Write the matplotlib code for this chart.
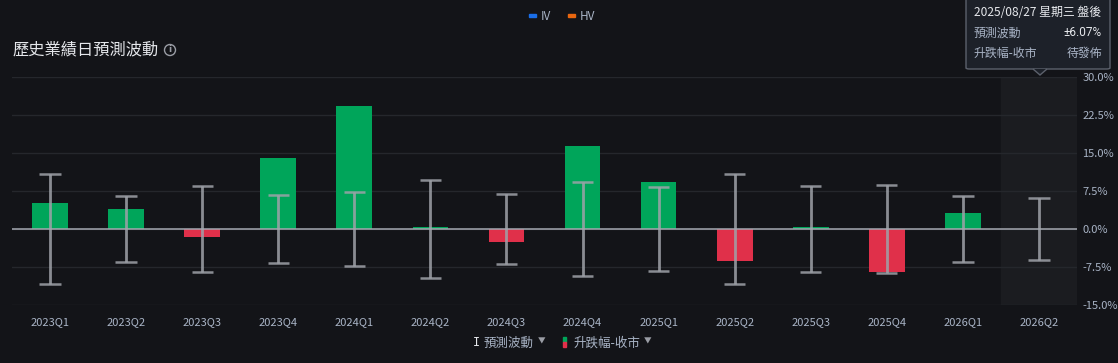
import matplotlib
matplotlib.use("Agg")
import matplotlib.pyplot as plt
from matplotlib.patches import FancyBboxPatch, Ellipse, Rectangle, Polygon
import numpy as np

plt.rcParams["font.family"] = ["Noto Sans CJK TC", "DejaVu Sans"]

BG = "#131418"
GRID = "#25272c"
TEXT = "#a9b4c6"
GREEN = "#00a55a"
RED = "#e0304a"
WHISKER = "#9fa2a9"

quarters = ["2023Q1", "2023Q2", "2023Q3", "2023Q4", "2024Q1", "2024Q2", "2024Q3",
            "2024Q4", "2025Q1", "2025Q2", "2025Q3", "2025Q4", "2026Q1", "2026Q2"]
# actual close-to-close move (%), None = not yet released
move = [5.1, 4.0, -1.5, 14.0, 24.3, 0.45, -2.5,
        16.4, 9.3, -6.4, 0.45, -8.4, 3.2, None]
# predicted move (+/- %)
implied = [10.9, 6.5, 8.45, 6.65, 7.35, 9.7, 6.9,
           9.3, 8.3, 10.9, 8.5, 8.65, 6.5, 6.07]
yticks = [30.0, 22.5, 15.0, 7.5, 0.0, -7.5, -15.0]

fig = plt.figure(figsize=(11.18, 3.63), dpi=100)
fig.patch.set_facecolor(BG)
W, H = 1118, 363
ax = fig.add_axes([12 / W, 1 - 305 / H, (1077 - 12) / W, (305 - 77) / H])
ax.set_facecolor(BG)

x = np.arange(len(quarters))
ax.set_xlim(-0.5, len(quarters) - 0.5)
ax.set_ylim(-15, 30)

# highlight of the upcoming quarter
ax.axvspan(len(quarters) - 1.5, len(quarters) - 0.5, color="#1b1c20", zorder=0)

for t in yticks:
    ax.axhline(t, color=GRID, lw=1, zorder=1)
ax.axhline(0, color="#a4a8b0", lw=1.1, zorder=4)

for xi, m in zip(x, move):
    if m is None:
        continue
    ax.bar(xi, m, width=0.47, color=GREEN if m >= 0 else RED, zorder=2)

for xi, iv in zip(x, implied):
    ax.plot([xi, xi], [-iv, iv], color=WHISKER, lw=2, alpha=0.85, zorder=3,
            solid_capstyle="butt")
    for yv in (-iv, iv):
        ax.plot([xi - 0.14, xi + 0.14], [yv, yv], color=WHISKER, lw=1.8,
                alpha=0.85, zorder=3, solid_capstyle="butt")

ax.set_xticks(x)
ax.set_xticklabels(quarters)
ax.yaxis.tick_right()
ax.set_yticks(yticks)
ax.set_yticklabels([f"{t:.1f}%" for t in yticks])
ax.tick_params(axis="both", length=0, colors=TEXT, labelsize=8)
ax.tick_params(axis="x", pad=9)
ax.tick_params(axis="y", pad=4)
for s in ax.spines.values():
    s.set_visible(False)

# title
fig.text(12 / W, 1 - 50 / H, "歷史業績日預測波動", color="#e6e8ec", fontsize=11.7,
         va="center", ha="left")
fig.patches.append(Ellipse((170 / W, 1 - 50 / H), 11 / W, 11 / H,
                           transform=fig.transFigure, fill=False, ec="#9a9da5", lw=1))
fig.text(170 / W, 1 - 50 / H, "i", color="#9a9da5", fontsize=6.5,
         ha="center", va="center", family="DejaVu Sans", fontweight="bold")

# top legend
fig.patches.append(Rectangle((529 / W, 1 - 17 / H), 7 / W, 3 / H,
                             transform=fig.transFigure, color="#1a6ee8"))
fig.text(541 / W, 1 - 16 / H, "IV", color=TEXT, fontsize=8.5, va="center")
fig.patches.append(Rectangle((568 / W, 1 - 17 / H), 7 / W, 3 / H,
                             transform=fig.transFigure, color="#e8660f"))
fig.text(580 / W, 1 - 16 / H, "HV", color=TEXT, fontsize=8.5, va="center")

# bottom legend
fig.text(476 / W, 1 - 343 / H, "I", color="#e6e8ec", fontsize=8.5, va="center",
         ha="center", family="DejaVu Sans Mono")
fig.text(484 / W, 1 - 343 / H, "預測波動", color=TEXT, fontsize=9, va="center")
fig.text(538 / W, 1 - 342 / H, "▼", color="#9a9da5", fontsize=5.5, va="center")
fig.patches.append(Rectangle((563 / W, 1 - 342 / H), 3 / W, 5 / H,
                             transform=fig.transFigure, color=GREEN))
fig.patches.append(Rectangle((563 / W, 1 - 347 / H), 3 / W, 5 / H,
                             transform=fig.transFigure, color=RED))
fig.text(573 / W, 1 - 343 / H, "升跌幅-收市", color=TEXT, fontsize=9, va="center")
fig.text(644 / W, 1 - 342 / H, "▼", color="#9a9da5", fontsize=5.5, va="center")

# tooltip
tip = FancyBboxPatch((966 / W, 1 - 69 / H), (1110 - 966) / W, 75 / H,
                     boxstyle="round,pad=0,rounding_size=0.003",
                     transform=fig.transFigure, fc="#1d2129", ec="#5c616c", lw=1)
fig.patches.append(tip)
fig.patches.append(Polygon([(1033 / W, 1 - 69 / H), (1040 / W, 1 - 75 / H),
                            (1047 / W, 1 - 69 / H)], closed=False,
                           transform=fig.transFigure, fc="#1d2129", ec="#5c616c", lw=1))
fig.text(974 / W, 1 - 12 / H, "2025/08/27 星期三 盤後", color="#e6e8ec",
         fontsize=8.6, va="center")
fig.text(974 / W, 1 - 33 / H, "預測波動", color=TEXT, fontsize=8.6, va="center")
fig.text(1102 / W, 1 - 33 / H, "±6.07%", color="#e6e8ec", fontsize=8.6,
         va="center", ha="right", family="Roboto")
fig.text(974 / W, 1 - 53 / H, "升跌幅-收市", color=TEXT, fontsize=8.6, va="center")
fig.text(1102 / W, 1 - 53 / H, "待發佈", color=TEXT, fontsize=8.6,
         va="center", ha="right")

fig.savefig("out.png", dpi=100, facecolor=BG)
